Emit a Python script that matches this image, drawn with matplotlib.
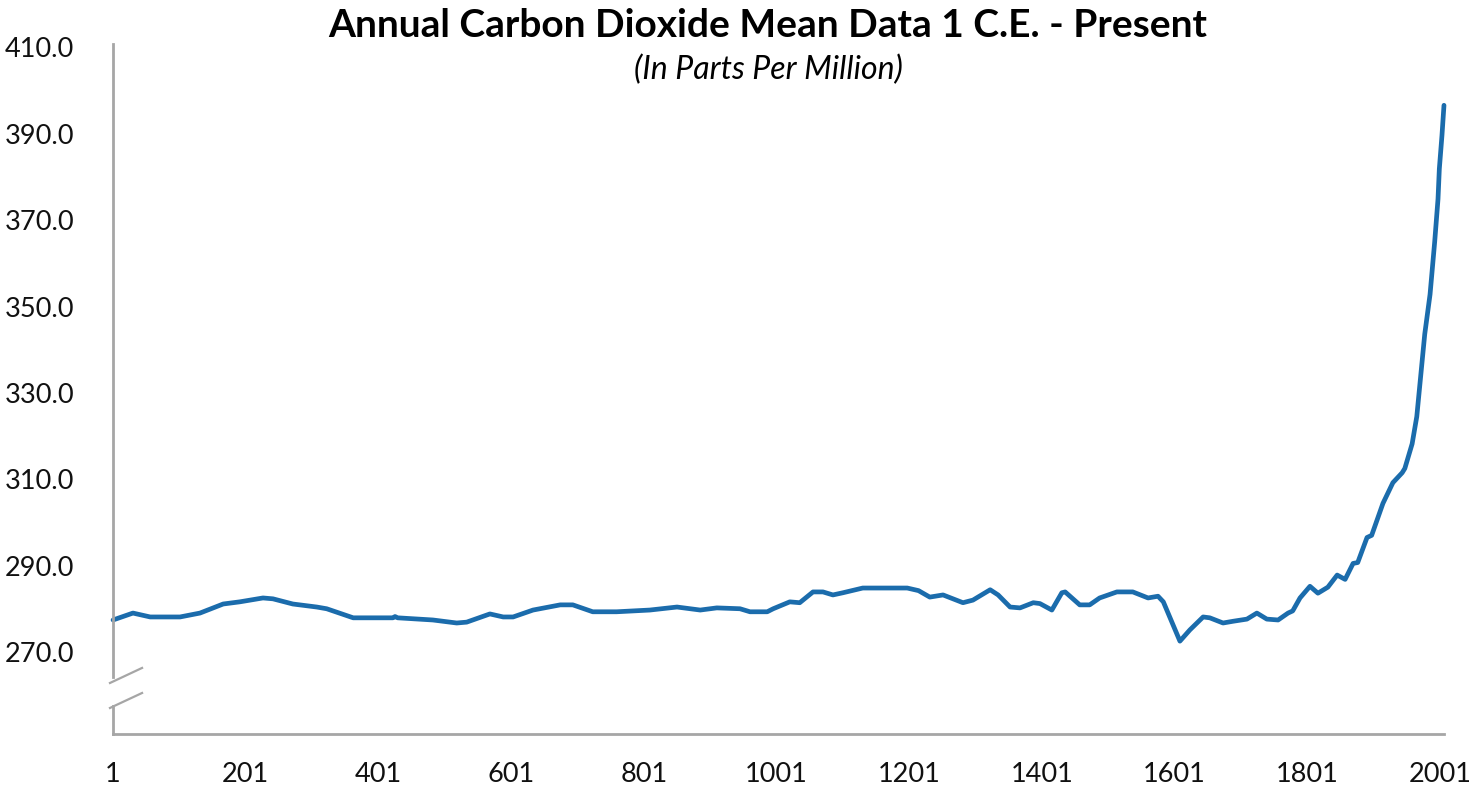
import numpy as np
import matplotlib.pyplot as plt
from matplotlib.lines import Line2D

# Yıllık CO2 ortalaması (ppm)
years = [1, 31, 57, 102, 132, 167, 192, 227, 242, 272, 308, 323, 363, 423, 426, 430,
         483, 519, 534, 569, 589, 604, 634, 675, 694, 724, 760, 810, 851, 886, 911,
         946, 961, 987, 996, 1021, 1036, 1056, 1071, 1086, 1101, 1131, 1198, 1215,
         1232, 1252, 1282, 1297, 1323, 1335, 1353, 1368, 1388, 1398, 1416, 1431, 1436,
         1458, 1473, 1488, 1514, 1538, 1561, 1576, 1584, 1609, 1624, 1644, 1654, 1674,
         1689, 1710, 1725, 1740, 1757, 1772, 1779, 1790, 1805, 1817, 1832, 1846, 1858,
         1870, 1877, 1891, 1898, 1915, 1930, 1944, 1948, 1959, 1966, 1978, 1986, 1993,
         1998, 2000, 2004, 2007]
co2 = [277.4, 279.0, 278.1, 278.1, 279.0, 281.1, 281.6, 282.5, 282.3, 281.1, 280.4,
       280.0, 277.9, 277.9, 278.2, 277.9, 277.4, 276.7, 276.9, 278.8, 278.1, 278.1,
       279.7, 280.9, 280.9, 279.3, 279.3, 279.7, 280.4, 279.7, 280.2, 280.0, 279.3,
       279.3, 280.0, 281.6, 281.4, 283.9, 283.9, 283.2, 283.7, 284.8, 284.8, 284.2,
       282.7, 283.2, 281.4, 282.0, 284.4, 283.2, 280.4, 280.2, 281.4, 281.2, 279.7,
       283.7, 283.9, 280.9, 280.9, 282.5, 283.9, 283.9, 282.5, 282.9, 281.6, 272.5,
       275.1, 278.1, 277.9, 276.7, 277.1, 277.6, 279.0, 277.6, 277.4, 279.0, 279.5,
       282.5, 285.2, 283.6, 285.0, 287.8, 286.8, 290.5, 290.7, 296.5, 297.0, 304.4,
       309.2, 311.5, 312.5, 318.2, 324.5, 343.6, 352.8, 365.0, 374.9, 381.9, 389.7,
       396.6]

x_ticks = [1, 201, 401, 601, 801, 1001, 1201, 1401, 1601, 1801, 2001]
y_ticks = [270, 290, 310, 330, 350, 370, 390, 410]

plt.rcParams['font.family'] = ['Lato', 'DejaVu Sans']

fig = plt.figure(figsize=(14.7, 7.91), dpi=100)
ax = fig.add_axes([0.0769, 0.0721, 0.9054, 0.8723])

ax.plot(years, co2, color="#1b6cac", lw=3.4, solid_joinstyle="round",
        solid_capstyle="round", clip_on=False)

ax.set_xlim(1, 2007)
ax.set_ylim(251.0, 410.8)
ax.set_xticks(x_ticks)
ax.set_yticks(y_ticks)
ax.set_yticklabels([f"{v:.1f}" for v in y_ticks])
ax.tick_params(length=0, labelsize=19.5, colors="#111111")
ax.tick_params(axis="x", pad=20)
ax.tick_params(axis="y", pad=28)

# eksenler: gri, sol eksende kırık işareti
spine_c = "#a6a6a6"
for s in ["top", "right", "left"]:
    ax.spines[s].set_visible(False)
ax.spines["bottom"].set_color(spine_c)
ax.spines["bottom"].set_linewidth(2)

tr = ax.transAxes
ax.add_line(Line2D([0, 0], [0, 0.0406], transform=tr, color=spine_c, lw=2, clip_on=False))
ax.add_line(Line2D([0, 0], [0.0826, 1], transform=tr, color=spine_c, lw=2, clip_on=False))
ax.add_line(Line2D([-0.0023, 0.0218], [0.0739, 0.0957], transform=tr, color=spine_c, lw=1.6, clip_on=False))
ax.add_line(Line2D([-0.0023, 0.0218], [0.0377, 0.0594], transform=tr, color=spine_c, lw=1.6, clip_on=False))

fig.text(0.5225, 0.968, "Annual Carbon Dioxide Mean Data 1 C.E. - Present",
         ha="center", va="center", fontsize=28, fontweight="bold")
fig.text(0.5225, 0.911, "(In Parts Per Million)", ha="center", va="center",
         fontsize=23, style="italic")

fig.savefig("out.png", dpi=100)
